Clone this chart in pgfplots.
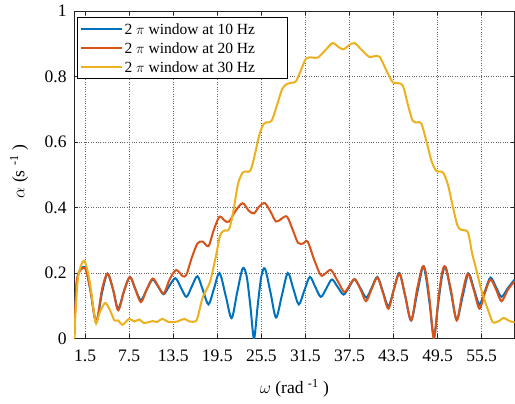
\documentclass[border=0pt]{standalone}
\usepackage{pgfplots}
\pgfplotsset{compat=1.18}
\usepackage{fontspec}
\setmainfont{Liberation Serif}
\definecolor{mblue}{rgb}{0,0.447,0.741}
\definecolor{mred}{rgb}{0.85,0.325,0.098}
\definecolor{myellow}{rgb}{0.929,0.694,0.125}

\begin{document}
\begin{tikzpicture}
\begin{axis}[
  name=ax,
  scale only axis,
  width=440bp, height=327bp,
  xmin=0, xmax=60, ymin=0, ymax=1,
  xtick={1.5,7.5,13.5,19.5,25.5,31.5,37.5,43.5,49.5,55.5},
  xticklabels={1.5,7.5,13.5,19.5,25.5,31.5,37.5,43.5,49.5,55.5},
  ytick={0,0.2,0.4,0.6,0.8,1},
  yticklabels={0,0.2,0.4,0.6,0.8,1},
  tick align=inside, tick pos=both,
  major tick length=4bp,
  tick style={black!85, line width=0.6bp},
  axis line style={black!85, line width=0.7bp},
  grid=major,
  grid style={black!60, dotted, line width=0.6bp},
  ticklabel style={font=\fontsize{17.5bp}{20bp}\selectfont},
  xticklabel style={yshift=-8bp},
  yticklabel style={xshift=-4bp},
  xlabel={$\omega$ (rad \textsuperscript{-1} )},
  xlabel style={font=\fontsize{17.5bp}{20bp}\selectfont, at={(axis description cs:0.5,-0.168)}, anchor=base},
  ylabel={$\alpha$ (s \textsuperscript{-1} )},
  ylabel style={font=\fontsize{17.5bp}{20bp}\selectfont, at={(axis description cs:-0.125,0.51)}, anchor=center},
  legend style={at={(axis description cs:0.007,0.982)}, anchor=north west,
    font=\fontsize{15.5bp}{19bp}\selectfont, draw=black, line width=0.6bp,
    inner xsep=3bp, inner ysep=2.5bp, row sep=0.5bp,
    cells={anchor=west, text height=13bp, text depth=1bp, inner ysep=2.5bp}},
  legend image code/.code={\draw[#1, line width=2bp] (0bp,0bp) -- (40bp,0bp);},
]
% 10 Hz
\addplot[mblue, line width=2bp, smooth, tension=0.5] coordinates {
(0,0)(0.4,0.18)(1.45,0.218)(2.2,0.15)(3.0,0.05)(3.8,0.14)(4.55,0.198)(5.3,0.15)
(6.0,0.091)(6.8,0.145)(7.6,0.188)(8.35,0.15)(9.1,0.117)(9.9,0.15)(10.7,0.18)
(11.45,0.158)(12.2,0.135)(12.95,0.16)(13.8,0.184)(14.55,0.155)(15.3,0.127)
(16.05,0.16)(16.8,0.19)(17.55,0.147)(18.3,0.104)(19.05,0.152)(19.8,0.2)
(20.65,0.13)(21.45,0.062)(22.2,0.14)(22.95,0.214)(23.5,0.19)(24.0,0.1)(24.5,0.0)
(25.0,0.1)(25.5,0.19)(26.0,0.213)(26.75,0.14)(27.5,0.064)(28.3,0.132)(29.1,0.2)
(29.85,0.152)(30.6,0.104)(31.35,0.146)(32.1,0.188)(32.85,0.157)(33.6,0.127)
(34.35,0.153)(35.1,0.18)(35.9,0.157)(36.7,0.134)(37.45,0.157)(38.2,0.181)
(39.0,0.153)(39.8,0.125)(40.55,0.156)(41.3,0.188)(42.05,0.143)(42.8,0.098)
(43.55,0.15)(44.3,0.2)(45.1,0.128)(45.9,0.055)(46.7,0.137)(47.5,0.219)(47.9,0.19)
(48.45,0.1)(49.0,0.004)(49.55,0.1)(50.1,0.19)(50.6,0.217)(51.35,0.137)(52.1,0.057)
(52.9,0.128)(53.7,0.198)(54.45,0.151)(55.2,0.104)(55.95,0.145)(56.7,0.186)
(57.45,0.157)(58.2,0.127)(59.1,0.155)(60,0.18)
};
\addlegendentry{2 $\pi$ window at 10 Hz\rule{27bp}{0pt}}
% 20 Hz
\addplot[mred, line width=2bp, smooth, tension=0.5] coordinates {
(0,0)(0.4,0.18)(1.45,0.215)(2.2,0.15)(3.0,0.05)(3.8,0.15)(4.55,0.198)(5.3,0.15)
(6.0,0.086)(6.8,0.145)(7.6,0.188)(8.35,0.15)(9.1,0.111)(9.9,0.15)(10.7,0.183)
(11.45,0.16)(12.2,0.137)(13.0,0.18)(13.9,0.209)(14.8,0.19)(15.3,0.195)(16.0,0.245)
(16.8,0.29)(17.5,0.296)(18.3,0.282)(19.0,0.33)(19.8,0.372)(20.5,0.36)(21.1,0.357)
(22.0,0.39)(22.95,0.413)(23.8,0.39)(24.5,0.382)(25.2,0.403)(26.0,0.413)(26.8,0.385)
(27.5,0.357)(28.2,0.365)(29.0,0.372)(29.8,0.33)(30.5,0.292)(31.2,0.29)(31.8,0.296)
(32.7,0.24)(33.6,0.193)(34.3,0.2)(35.0,0.209)(35.9,0.175)(36.8,0.142)(37.5,0.162)
(38.2,0.181)(39.0,0.15)(39.75,0.114)(40.5,0.15)(41.3,0.186)(42.05,0.14)(42.8,0.091)
(43.55,0.15)(44.3,0.198)(45.1,0.13)(45.9,0.055)(46.7,0.15)(47.45,0.219)(47.9,0.2)
(48.4,0.12)(49.0,0.0)(49.6,0.12)(50.1,0.2)(50.55,0.219)(51.3,0.15)(52.1,0.055)
(52.8,0.13)(53.6,0.198)(54.4,0.15)(55.2,0.091)(55.95,0.14)(56.7,0.18)(57.45,0.15)
(58.2,0.114)(59.1,0.15)(60,0.175)
};
\addlegendentry{2 $\pi$ window at 20 Hz\rule{27bp}{0pt}}
% 30 Hz
\addplot[myellow, line width=2bp, smooth, tension=0.5] coordinates {
(0,0)(0.45,0.168)(0.9,0.22)(1.4,0.237)(1.9,0.2)(2.3,0.147)(2.7,0.08)(3.0,0.045)
(3.5,0.08)(4.2,0.108)(4.7,0.095)(5.1,0.075)(5.5,0.055)(6.0,0.055)(6.6,0.042)
(7.5,0.06)(8.2,0.052)(8.9,0.058)(9.5,0.047)(10.7,0.053)(11.3,0.05)(12.0,0.06)
(12.9,0.05)(14.1,0.052)(15.0,0.06)(15.7,0.052)(16.6,0.053)(17.0,0.08)(17.5,0.125)
(18.1,0.152)(18.6,0.18)(19.3,0.25)(19.9,0.315)(20.5,0.33)(21.1,0.333)(21.7,0.39)
(22.3,0.47)(22.9,0.505)(23.4,0.51)(24.0,0.512)(24.6,0.56)(25.2,0.62)(25.8,0.655)
(26.3,0.66)(26.9,0.665)(27.6,0.71)(28.3,0.76)(28.9,0.776)(29.6,0.781)(30.2,0.785)
(30.9,0.82)(31.6,0.855)(32.4,0.858)(33.2,0.858)(34.2,0.88)(35.2,0.902)(36.0,0.89)
(36.7,0.883)(37.4,0.895)(38.2,0.902)(39.2,0.88)(40.2,0.86)(40.9,0.862)(41.6,0.86)
(42.5,0.82)(43.4,0.782)(44.1,0.78)(44.8,0.77)(45.5,0.71)(46.1,0.665)(46.7,0.66)
(47.3,0.656)(48.0,0.6)(48.7,0.54)(49.3,0.512)(49.8,0.51)(50.3,0.505)(50.9,0.47)
(51.6,0.4)(52.2,0.345)(52.7,0.332)(53.3,0.33)(53.7,0.32)(54.2,0.26)(54.6,0.225)
(55.1,0.18)(55.5,0.145)(56.0,0.11)(56.4,0.085)(57.0,0.05)(57.5,0.05)(58.0,0.055)
(58.5,0.063)(59.3,0.053)(60,0.05)
};
\addlegendentry{2 $\pi$ window at 30 Hz\rule{27bp}{0pt}}
\end{axis}
\pgfresetboundingbox
\path[use as bounding box] ([shift={(-74bp,-65bp)}]ax.south west) rectangle ([shift={(0.3bp,11bp)}]ax.north east);
\end{tikzpicture}
\end{document}
